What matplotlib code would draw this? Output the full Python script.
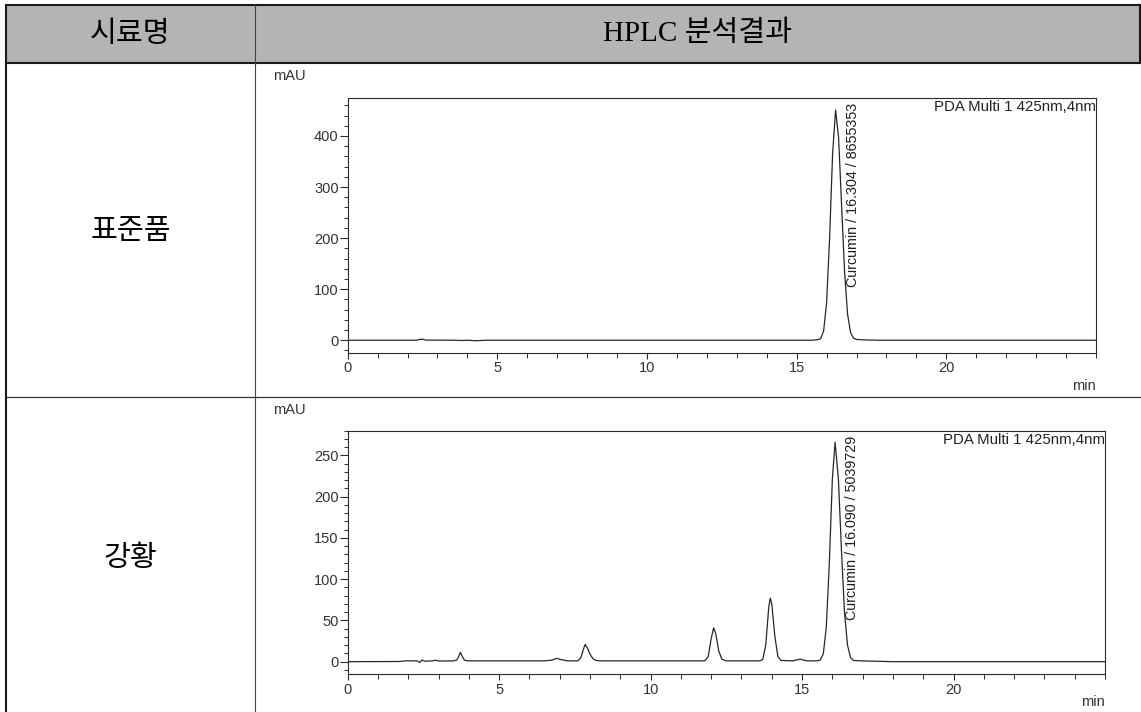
import matplotlib
matplotlib.use('Agg')
import matplotlib.pyplot as plt
from matplotlib.lines import Line2D
from matplotlib.patches import Rectangle
from matplotlib.ticker import MultipleLocator, FixedLocator

# table text
col_headers = ['시료명', 'HPLC 분석결과']
row_labels = ['표준품', '강황']

# standard (표준품) chromatogram, time (min) vs mAU
std_time = [0, 1.5, 2.3, 2.4, 2.5, 2.6, 3.6, 3.8, 4.0, 4.3, 4.6, 8, 12,
            15.5, 15.7, 15.8, 15.9, 16.0, 16.1, 16.2, 16.3, 16.4, 16.5,
            16.6, 16.7, 16.8, 16.9, 17.0, 17.3, 17.8, 25]
std_mau = [0, 0, 0, 1.5, 2, 0.3, 0, -0.5, 0, -1, 0, 0, 0,
           0, 1, 3, 18, 74, 200, 365, 451, 397, 265,
           134, 51, 15, 4, 1.5, 0.5, 0, 0]

# 강황 sample chromatogram
smp_time = [0, 1.7, 1.9, 2.3, 2.38, 2.45, 2.55, 2.8, 2.9, 3.0,
            3.5, 3.6, 3.66, 3.72, 3.78, 3.85, 3.95, 5, 6.5, 6.75,
            6.9, 7.05, 7.25, 7.6, 7.7, 7.78, 7.84, 7.92, 8.0, 8.1,
            8.2, 8.35, 11.7, 11.8, 11.9, 12.0, 12.08, 12.15, 12.25, 12.35,
            12.5, 13.6, 13.7, 13.8, 13.9, 13.95, 14.0, 14.1, 14.2, 14.3,
            14.7, 14.93, 15.15, 15.5, 15.6, 15.7, 15.8, 15.9, 16.0, 16.09,
            16.2, 16.3, 16.4, 16.5, 16.6, 16.7, 16.9, 17.5, 18, 25]
smp_mau = [0, 0.2, 1, 1, -1, 2, 0.5, 1, 1.8, 0.8,
           1, 2, 6, 11.4, 6.5, 2, 1, 1, 1, 2,
           4, 2.5, 1, 1, 5, 15, 21, 16, 9, 3.5,
           1.5, 1, 1, 1.3, 6, 28, 41, 34, 13, 3,
           1, 1, 2.5, 20, 66, 77, 70, 31, 6.5, 1.5,
           1, 3, 1, 1, 2, 9.5, 42, 120, 222, 266,
           221, 135, 60, 20, 5, 1.5, 1, 0.5, 0, 0]

x_labeled = [0, 5, 10, 15, 20]
peak_labels = ['Curcumin / 16.304 / 8655353', 'Curcumin / 16.090 / 5039729']
detector = 'PDA Multi 1 425nm,4nm'

W, H = 1141, 712
fig = plt.figure(figsize=(W / 100, H / 100), dpi=100)


def fx(px):
    return px / W


def fy(py):
    return 1 - py / H


def hline(y, x0, x1, lw, c='#1a1a1a'):
    fig.add_artist(Line2D([fx(x0), fx(x1)], [fy(y), fy(y)], transform=fig.transFigure,
                          color=c, lw=lw))


def vline(x, y0, y1, lw, c='#1a1a1a'):
    fig.add_artist(Line2D([fx(x), fx(x)], [fy(y0), fy(y1)], transform=fig.transFigure,
                          color=c, lw=lw))


# table frame
fig.add_artist(Rectangle((fx(6), fy(63)), fx(1141) - fx(6), fy(5) - fy(63),
                         transform=fig.transFigure, facecolor='#b4b4b4', edgecolor='none'))
hline(5, 6, 1141, 1.5)
hline(63, 6, 1141, 1.5)
hline(397, 6, 1141, 0.9, '#333333')
vline(6, 5, 712, 1.5)
vline(255, 5, 712, 0.8, '#444444')
vline(1140, 5, 63, 1.5)

kr = ['Noto Sans CJK KR', 'DejaVu Sans']
fig.text(fx(130.5), fy(34), col_headers[0], ha='center', va='center', fontsize=21, family=kr)
fig.text(fx(698), fy(34), col_headers[1], ha='center', va='center', fontsize=21,
         family=['Liberation Serif', 'Noto Sans CJK KR'])
fig.text(fx(130.5), fy(231), row_labels[0], ha='center', va='center', fontsize=21, family=kr)
fig.text(fx(130.5), fy(558), row_labels[1], ha='center', va='center', fontsize=21, family=kr)

plt.rcParams['font.family'] = ['Liberation Sans', 'DejaVu Sans']
ink = '#2a2a2a'

panels = [
    dict(box=(347.7, 1096, 97.7, 353), ylim=(-25, 475), major=100, minor=20,
         t=std_time, y=std_mau, lab=peak_labels[0], labx=16.89, mau_y=76, min_y=386),
    dict(box=(347.7, 1105, 430.7, 674.3), ylim=(-15.3, 280), major=50, minor=10,
         t=smp_time, y=smp_mau, lab=peak_labels[1], labx=16.64, mau_y=410, min_y=702),
]

for p in panels:
    l, r, t, b = p['box']
    ax = fig.add_axes([fx(l), fy(b), fx(r) - fx(l), fy(t) - fy(b)])
    ax.plot(p['t'], p['y'], color='#262626', lw=0.9)
    ax.set_xlim(0, 25)
    ax.set_ylim(*p['ylim'])
    ax.xaxis.set_major_locator(FixedLocator(x_labeled))
    ax.xaxis.set_minor_locator(MultipleLocator(1))
    ax.yaxis.set_major_locator(MultipleLocator(p['major']))
    ax.yaxis.set_minor_locator(MultipleLocator(p['minor']))
    for s in ax.spines.values():
        s.set_color(ink)
        s.set_linewidth(0.8)
    ax.tick_params(axis='y', which='major', direction='out', length=6, width=0.8,
                   color=ink, labelcolor='#333333', labelsize=10.5, pad=0.5)
    ax.tick_params(axis='y', which='minor', direction='out', length=3, width=0.7, color=ink)
    ax.tick_params(axis='x', which='major', direction='out', length=4.5, width=0.8,
                   color=ink, labelcolor='#333333', labelsize=10.5, pad=1.5)
    ax.tick_params(axis='x', which='minor', direction='out', length=3.5, width=0.7, color=ink)
    ax.annotate(detector, xy=(1, 1), xycoords='axes fraction', xytext=(0, -1.5),
                textcoords='offset points', ha='right', va='top', fontsize=10.8, color='#222222')
    ax.annotate(p['lab'], xy=(p['labx'], 1), xycoords=('data', 'axes fraction'),
                xytext=(0, -3.5), textcoords='offset points', rotation=90,
                ha='center', va='top', fontsize=10.3, color='#1e1e1e')
    fig.text(fx(273), fy(p['mau_y']), 'mAU', ha='left', va='center', fontsize=10.5, color='#333333')
    fig.text(fx(r), fy(p['min_y']), 'min', ha='right', va='center', fontsize=10.5, color='#333333')

fig.savefig('out.png', dpi=100)
